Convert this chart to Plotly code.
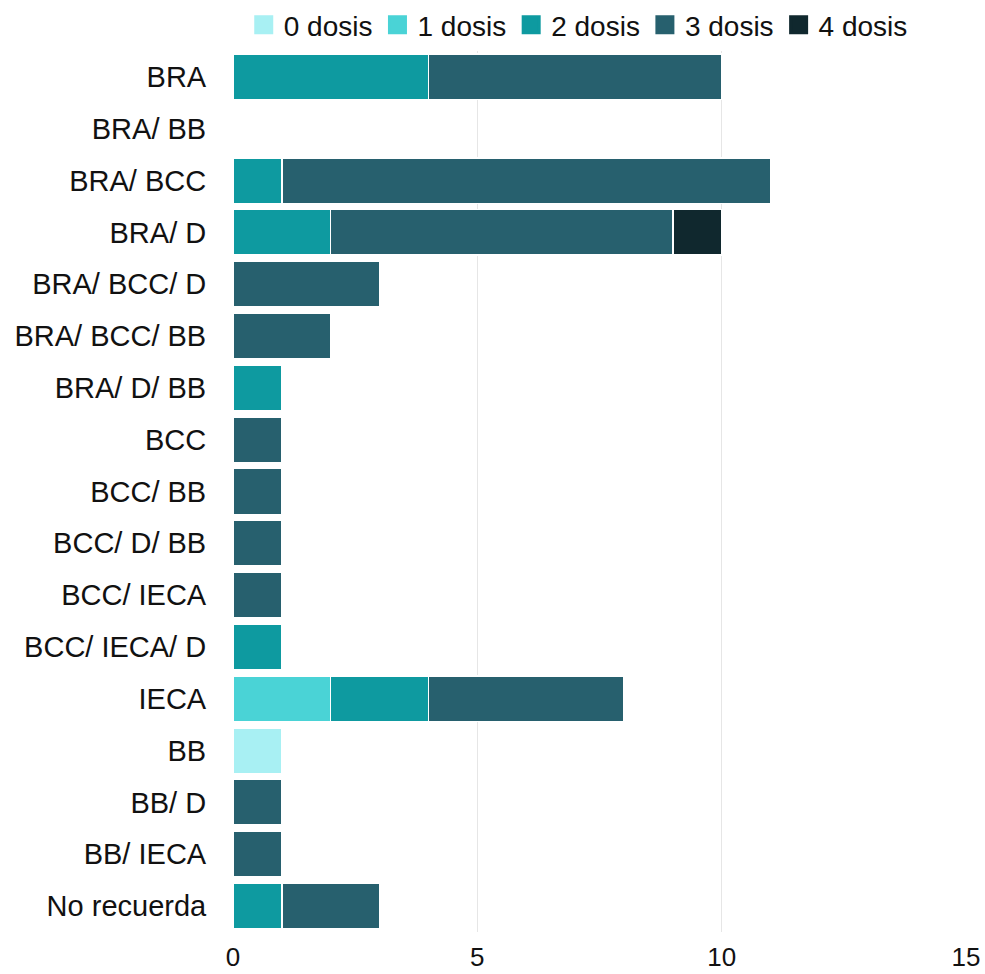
import plotly.graph_objects as go

categories = ["BRA", "BRA/ BB", "BRA/ BCC", "BRA/ D", "BRA/ BCC/ D", "BRA/ BCC/ BB",
              "BRA/ D/ BB", "BCC", "BCC/ BB", "BCC/ D/ BB", "BCC/ IECA", "BCC/ IECA/ D",
              "IECA", "BB", "BB/ D", "BB/ IECA", "No recuerda"]

dosis_0 = [0, 0, 0, 0, 0, 0, 0, 0, 0, 0, 0, 0, 0, 1, 0, 0, 0]
dosis_1 = [0, 0, 0, 0, 0, 0, 0, 0, 0, 0, 0, 0, 2, 0, 0, 0, 0]
dosis_2 = [4, 0, 1, 2, 0, 0, 1, 0, 0, 0, 0, 1, 2, 0, 0, 0, 1]
dosis_3 = [6, 0, 10, 7, 3, 2, 0, 1, 1, 1, 1, 0, 4, 0, 1, 1, 2]
dosis_4 = [0, 0, 0, 1, 0, 0, 0, 0, 0, 0, 0, 0, 0, 0, 0, 0, 0]

series = [
    ("0 dosis", dosis_0, "#A8F0F3"),
    ("1 dosis", dosis_1, "#4AD3D6"),
    ("2 dosis", dosis_2, "#0E9AA0"),
    ("3 dosis", dosis_3, "#27606E"),
    ("4 dosis", dosis_4, "#10282E"),
]

fig = go.Figure()
for name, vals, color in series:
    fig.add_trace(go.Bar(
        y=categories, x=vals, name=name, orientation="h", showlegend=False,
        marker=dict(color=color, line=dict(color="white", width=1.5)),
    ))

# legend keys drawn as large squares
for name, vals, color in series:
    fig.add_trace(go.Scatter(
        x=[None], y=[None], mode="markers", name=name,
        marker=dict(symbol="square", size=16, color=color,
                    line=dict(color=color, width=3)),
    ))

fig.update_layout(
    barmode="stack",
    bargap=0.12,
    width=985, height=974,
    margin=dict(l=233, r=19, t=51, b=42, autoexpand=False),
    paper_bgcolor="white", plot_bgcolor="white",
    font=dict(family="Liberation Sans, Arial, sans-serif", size=28, color="#111111"),
    legend=dict(orientation="h", x=0.471, xanchor="center", xref="paper",
                y=1, yanchor="top", yref="container",
                font=dict(size=28), itemwidth=30, traceorder="normal",
                tracegroupgap=0),
    xaxis=dict(range=[0, 15], tickvals=[0, 5, 10, 15], showgrid=True,
               gridcolor="#E6E6E6", gridwidth=1, zeroline=False, showline=False,
               ticks="outside", ticklen=2, tickcolor="rgba(0,0,0,0)",
               automargin=False, tickfont=dict(size=26)),
    yaxis=dict(autorange="reversed", showgrid=False, zeroline=False, showline=False,
               ticks="outside", ticklen=20, tickcolor="rgba(0,0,0,0)",
               automargin=False, tickfont=dict(size=29)),
)

fig.write_html("out.html")
